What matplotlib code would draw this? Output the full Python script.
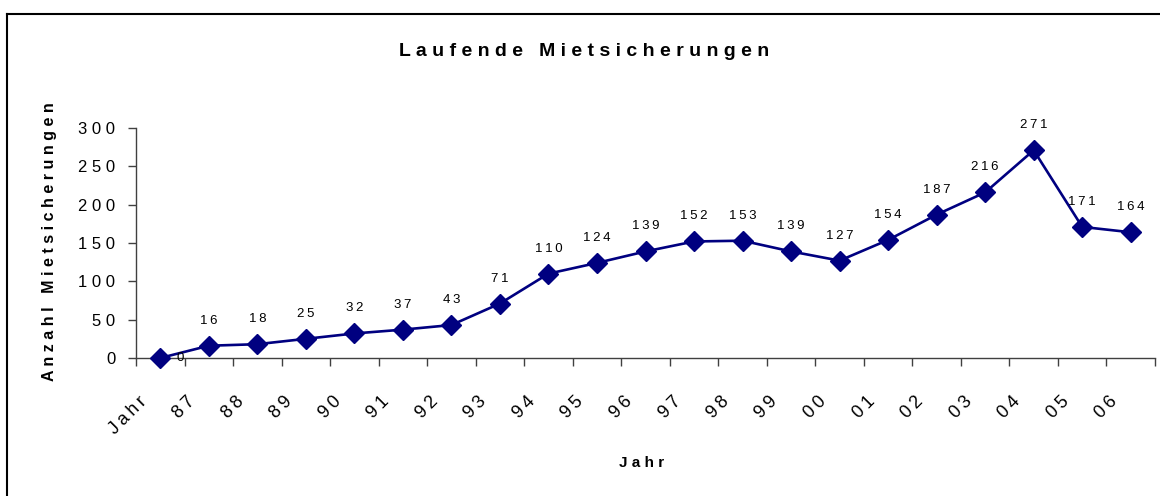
import matplotlib
matplotlib.use("Agg")
import matplotlib.pyplot as plt
import matplotlib.transforms as mtransforms
from matplotlib.lines import Line2D

plt.rcParams['font.family'] = ['Liberation Sans', 'DejaVu Sans']

# daten
jahre = ["Jahr", "87", "88", "89", "90", "91", "92", "93", "94", "95", "96",
         "97", "98", "99", "00", "01", "02", "03", "04", "05", "06"]
werte = [0, 16, 18, 25, 32, 37, 43, 71, 110, 124, 139, 152, 153, 139, 127,
         154, 187, 216, 271, 171, 164]
y_ticks = [0, 50, 100, 150, 200, 250, 300]

navy = "#000080"
achse = "#404040"


def sperren(s, sep=" "):
    # Excel-artige Sperrschrift: Leerzeichen zwischen die Buchstaben
    return sep.join(s)


W, H = 1160, 496
fig = plt.figure(figsize=(W / 100, H / 100), dpi=100)

# rahmen um das diagramm (nur links und oben sichtbar)
fig.add_artist(Line2D([7 / W, 7 / W], [0, 1 - 14 / H], transform=fig.transFigure,
                      color="black", lw=1.5))
fig.add_artist(Line2D([7 / W, 1], [1 - 14 / H, 1 - 14 / H], transform=fig.transFigure,
                      color="black", lw=1.5))

left, right, bottom, top = 136, 1155, 358, 128
ax = fig.add_axes([left / W, 1 - bottom / H, (right - left) / W, (bottom - top) / H])

x = list(range(len(werte)))
ax.plot(x, werte, color=navy, lw=1.9, marker="D", ms=10, mfc=navy, mec=navy,
        clip_on=False, zorder=3)

ax.set_xlim(-0.5, len(werte) - 0.5)
ax.set_ylim(0, 300)

for s in ["top", "right"]:
    ax.spines[s].set_visible(False)
for s in ["left", "bottom"]:
    ax.spines[s].set_color(achse)
    ax.spines[s].set_linewidth(1.0)

# y-achse
ax.set_yticks(y_ticks)
ax.set_yticklabels([sperren(str(v)) for v in y_ticks], fontsize=12)
ax.tick_params(axis="y", direction="out", length=6, width=1, color=achse, pad=9)

# x-achse: striche an den kategoriegrenzen
ax.set_xticks([i - 0.5 for i in range(len(werte) + 1)], minor=True)
ax.set_xticks([])
ax.tick_params(axis="x", which="minor", direction="out", length=6, width=1, color=achse)

# gedrehte kategorienbeschriftungen
off = mtransforms.ScaledTranslation(-16 / 100, -41 / 100, fig.dpi_scale_trans)
for i, lab in enumerate(jahre):
    ax.text(i, 0, sperren(lab, "\u2009"), transform=ax.get_xaxis_transform() + off,
            rotation=45, rotation_mode="anchor", ha="right", va="center",
            fontsize=13)

# datenbeschriftungen
for i, v in enumerate(werte):
    if v == 0:
        dx, dy = 20, 0
    else:
        dx, dy = 0, 25
    ax.annotate(sperren(str(v), "\u2009"), (i, v), xytext=(dx * 0.72, dy * 0.72),
                textcoords="offset points", ha="center", va="center", fontsize=9.5,
                annotation_clip=False)

# titel und achsentitel
fig.text(584 / W, 1 - 52 / H, sperren("Laufende") + "   " + sperren("Mietsicherungen"),
         ha="center", va="center", fontsize=14, fontweight="bold")
fig.text(50 / W, 1 - 242 / H, sperren("Anzahl") + "   " + sperren("Mietsicherungen"),
         ha="center", va="center", rotation=90, fontsize=11.5, fontweight="bold")
fig.text(642 / W, 1 - 463 / H, sperren("Jahr"),
         ha="center", va="center", fontsize=11, fontweight="bold")

fig.savefig("out.png", dpi=100)
